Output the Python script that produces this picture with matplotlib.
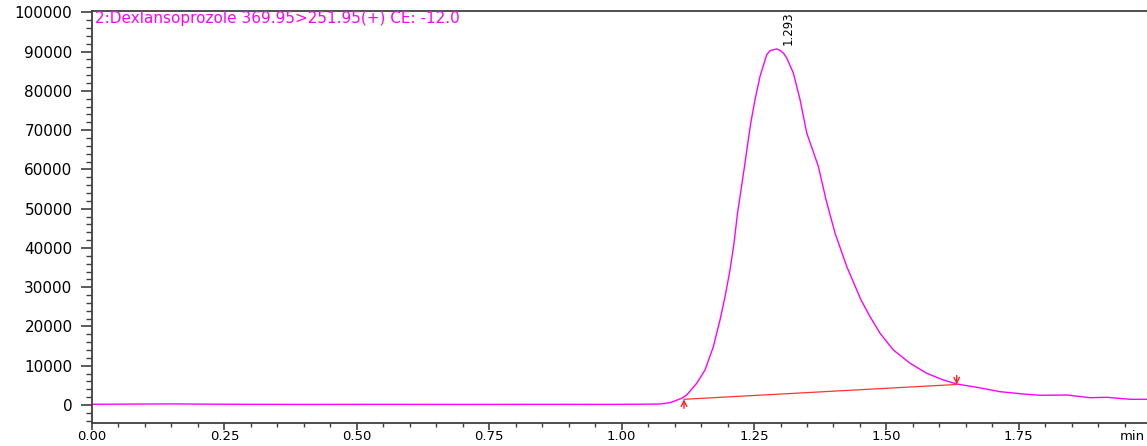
import matplotlib
matplotlib.use("Agg")
import matplotlib.pyplot as plt
from matplotlib.ticker import MultipleLocator, FormatStrFormatter, FuncFormatter

plt.rcParams["font.family"] = ["DejaVu Sans"]

# Chromatogram trace: retention time (min) vs. intensity
time_min = [
    0.000, 0.060, 0.150, 0.250, 0.400, 0.550, 0.700, 0.850, 0.980, 1.040,
    1.0725, 1.0914, 1.1135, 1.1229, 1.1418, 1.1575, 1.1732, 1.1858, 1.1953,
    1.2047, 1.2122, 1.2187, 1.2236, 1.2311, 1.2374, 1.2438, 1.2519, 1.2613,
    1.2740, 1.2802, 1.2930, 1.2991, 1.3054, 1.3118, 1.3243, 1.3369, 1.3496,
    1.3715, 1.3860, 1.4030, 1.4251, 1.4520, 1.4690, 1.4879, 1.5130, 1.5446,
    1.5761, 1.6075, 1.6327, 1.6705, 1.7145, 1.7585, 1.7900, 1.8404, 1.8844,
    1.9160, 1.9600, 1.9921,
]
intensity = [
    180, 220, 280, 190, 150, 170, 150, 170, 160, 200,
    255, 586, 1708, 2549, 5531, 8922, 14861, 21667, 27606,
    34413, 41219, 48700, 53097, 59903, 65843, 71807, 77772, 83686,
    89217, 90240, 90700, 90310, 89650, 88376, 84553, 77772, 69258,
    60744, 52256, 43768, 35254, 26765, 22508, 18277, 14020, 10630,
    8081, 6373, 5353, 4512, 3390, 2804, 2473, 2549, 1861,
    1963, 1453, 1453,
]

# Integration baseline (start / end of the peak)
baseline_time = [1.1178, 1.6327]
baseline_level = [1453, 5226]

peak_rt = 1.293
peak_label = "1.293"
trace_title = "2:Dexlansoprozole 369.95>251.95(+) CE: -12.0"

W, H = 1147, 446
x_axis_px = 422.5
fig = plt.figure(figsize=(W / 100, H / 100), dpi=100)
ax = fig.add_axes([92 / W, (H - x_axis_px) / H, 1 - 92 / W, (x_axis_px - 10.5) / H])

ax.plot(time_min, intensity, color="#FF00FF", lw=1.0, solid_joinstyle="round")
ax.plot(baseline_time, baseline_level, color="#FF3333", lw=0.9)

# Arrows marking the start and end of integration
arrow_style = dict(arrowstyle="->", color="#FF2020", lw=1.0,
                   shrinkA=0, shrinkB=0, mutation_scale=10)
ax.annotate("", xy=(baseline_time[0], baseline_level[0]), xytext=(0, -6.5),
            textcoords="offset points", arrowprops=arrow_style)
ax.annotate("", xy=(baseline_time[1], baseline_level[1]), xytext=(0, 6.5),
            textcoords="offset points", arrowprops=arrow_style)

# Retention time label above the peak apex
peak_height = intensity[time_min.index(peak_rt)]
ax.annotate(peak_label, xy=(peak_rt, peak_height), xytext=(8, 3),
            textcoords="offset points", rotation=90, ha="center",
            va="bottom", fontsize=8.5, color="black")

ax.annotate(trace_title, xy=(0, 1), xycoords="axes fraction", xytext=(2, -0.3),
            textcoords="offset points", ha="left", va="top",
            fontsize=11, color="#FF00FF")

# 3.926 px per 1000 counts, zero level at 405 px from the top
ax.set_xlim(0, 1.992)
ax.set_ylim(-(x_axis_px - 405) / 3.926 * 1000, 100480)

ax.xaxis.set_major_locator(MultipleLocator(0.25))
ax.xaxis.set_minor_locator(MultipleLocator(0.05))
ax.xaxis.set_major_formatter(FormatStrFormatter("%.2f"))
ax.yaxis.set_major_locator(MultipleLocator(10000))
ax.yaxis.set_minor_locator(MultipleLocator(2000))
ax.yaxis.set_major_formatter(FuncFormatter(lambda v, p: f"{int(round(v))}"))

spine_color = "#404040"
for side in ("left", "bottom", "top"):
    ax.spines[side].set_color(spine_color)
    ax.spines[side].set_linewidth(1.3)
ax.spines["right"].set_visible(False)

ax.tick_params(axis="x", which="major", length=5, width=1.2, pad=0.5,
               labelsize=9.5, color=spine_color, top=False)
ax.tick_params(axis="x", which="minor", length=3.2, width=1.0,
               color=spine_color, top=False)
ax.tick_params(axis="y", which="major", length=8, width=1.2, pad=6,
               labelsize=11, color=spine_color, right=False)
ax.tick_params(axis="y", which="minor", length=4, width=1.0,
               color=spine_color, right=False)

label_top = x_axis_px + 5 * 100 / 72 + 0.5 * 100 / 72
fig.text(0.998, (H - label_top) / H, "min", ha="right", va="top", fontsize=9.5)

fig.savefig("out.png", dpi=100)
